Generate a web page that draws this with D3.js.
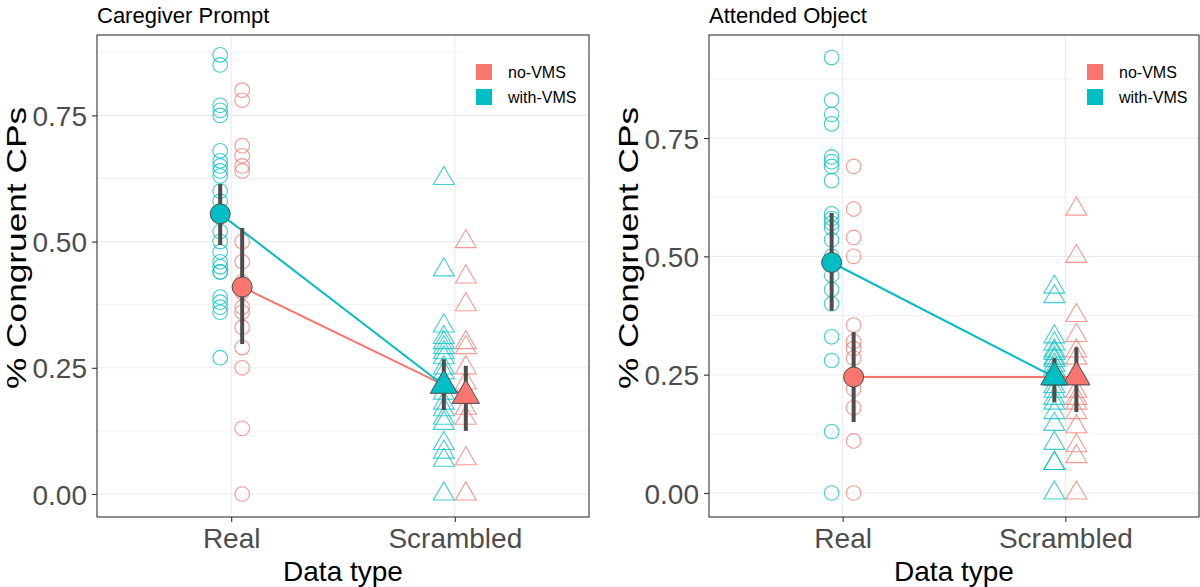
<!DOCTYPE html>
<html>
<head>
<meta charset="utf-8">
<script src="https://cdn.jsdelivr.net/npm/d3@7"></script>
<style>
  html, body { margin: 0; padding: 0; background: #fff; }
  svg { display: block; font-family: "Liberation Sans", Arial, sans-serif; }
</style>
</head>
<body>
<svg id="chart" width="1200" height="587"></svg>
<script>
// ---------------- data ----------------
const categories = ["Real", "Scrambled"];
const groups = ["no-VMS", "with-VMS"];
const panelTitles = ["Caregiver Prompt", "Attended Object"];
const yTicks = [0, 0.25, 0.5, 0.75];
const yMinorTicks = [0.125, 0.375, 0.625, 0.875];
const yTickLabels = ["0.00", "0.25", "0.50", "0.75"];
const xTitle = "Data type";
const yTitle = "% Congruent CPs";

// Caregiver Prompt – individual values
const cpRealWithVMS = [0.87, 0.85, 0.77, 0.76, 0.75, 0.68, 0.66, 0.65, 0.64, 0.63, 0.60, 0.58, 0.56, 0.52, 0.50, 0.48, 0.46, 0.45, 0.44, 0.44, 0.39, 0.38, 0.37, 0.36, 0.27];
const cpRealNoVMS = [0.80, 0.78, 0.69, 0.67, 0.65, 0.64, 0.50, 0.46, 0.42, 0.40, 0.37, 0.36, 0.33, 0.29, 0.25, 0.13, 0.00];
const cpScrWithVMS = [0.625, 0.444, 0.333, 0.31, 0.30, 0.29, 0.28, 0.27, 0.25, 0.24, 0.22, 0.20, 0.18, 0.167, 0.15, 0.14, 0.10, 0.083, 0.067, 0.00];
const cpScrNoVMS = [0.50, 0.43, 0.375, 0.30, 0.29, 0.25, 0.22, 0.20, 0.17, 0.15, 0.07, 0.00];
// Caregiver Prompt – means and intervals [Real, Scrambled]
const cpMeanWithVMS = [0.555, 0.215];
const cpLowWithVMS = [0.493, 0.166];
const cpHighWithVMS = [0.614, 0.267];
const cpMeanNoVMS = [0.41, 0.195];
const cpLowNoVMS = [0.297, 0.125];
const cpHighNoVMS = [0.527, 0.254];

// Attended Object – individual values
const aoRealWithVMS = [0.92, 0.83, 0.80, 0.78, 0.71, 0.70, 0.69, 0.66, 0.59, 0.58, 0.57, 0.56, 0.535, 0.50, 0.46, 0.43, 0.40, 0.33, 0.28, 0.13, 0.00];
const aoRealNoVMS = [0.69, 0.60, 0.54, 0.50, 0.355, 0.32, 0.305, 0.285, 0.25, 0.22, 0.18, 0.11, 0.00];
const aoScrWithVMS = [0.435, 0.415, 0.33, 0.315, 0.30, 0.295, 0.285, 0.28, 0.27, 0.26, 0.25, 0.24, 0.225, 0.215, 0.20, 0.19, 0.17, 0.145, 0.105, 0.0625, 0.0625, 0.00];
const aoScrNoVMS = [0.60, 0.50, 0.375, 0.333, 0.30, 0.285, 0.25, 0.215, 0.20, 0.19, 0.17, 0.14, 0.10, 0.077, 0.00];
const aoMeanWithVMS = [0.487, 0.245];
const aoLowWithVMS = [0.385, 0.192];
const aoHighWithVMS = [0.592, 0.285];
const aoMeanNoVMS = [0.245, 0.245];
const aoLowNoVMS = [0.150, 0.171];
const aoHighNoVMS = [0.340, 0.308];

// ---------------- build panel data ----------------
function panelData(title, real, scr, means, lows, highs, yDomain) {
  return {
    title,
    yDomain,
    points: [
      ...real.withVMS.map(v => ({cat: "Real", grp: "with-VMS", v})),
      ...real.noVMS.map(v => ({cat: "Real", grp: "no-VMS", v})),
      ...scr.withVMS.map(v => ({cat: "Scrambled", grp: "with-VMS", v})),
      ...scr.noVMS.map(v => ({cat: "Scrambled", grp: "no-VMS", v}))
    ],
    summary: groups.map(g => ({
      grp: g,
      vals: categories.map((c, i) => ({cat: c, grp: g, mean: means[g][i], lo: lows[g][i], hi: highs[g][i]}))
    }))
  };
}

const panels = [
  Object.assign(panelData(panelTitles[0],
    {withVMS: cpRealWithVMS, noVMS: cpRealNoVMS},
    {withVMS: cpScrWithVMS, noVMS: cpScrNoVMS},
    {"with-VMS": cpMeanWithVMS, "no-VMS": cpMeanNoVMS},
    {"with-VMS": cpLowWithVMS, "no-VMS": cpLowNoVMS},
    {"with-VMS": cpHighWithVMS, "no-VMS": cpHighNoVMS},
    [-0.0456, 0.9093]), {x0: 97, x1: 589, legendX: 463}),
  Object.assign(panelData(panelTitles[1],
    {withVMS: aoRealWithVMS, noVMS: aoRealNoVMS},
    {withVMS: aoScrWithVMS, noVMS: aoScrNoVMS},
    {"with-VMS": aoMeanWithVMS, "no-VMS": aoMeanNoVMS},
    {"with-VMS": aoLowWithVMS, "no-VMS": aoLowNoVMS},
    {"with-VMS": aoHighWithVMS, "no-VMS": aoHighNoVMS},
    [-0.0507, 0.9677]), {x0: 709, x1: 1199, legendX: 1074})
];

// ---------------- drawing ----------------
const svg = d3.select("#chart");
const color = d3.scaleOrdinal().domain(groups).range(["#F8766D", "#00BFC4"]);
const y0 = 35, y1 = 517;

panels.forEach(p => {
  const g = svg.append("g");
  const x = d3.scalePoint().domain(categories).range([p.x0, p.x1]).padding(0.6);
  const dodge = d3.scaleBand().domain(["with-VMS", "no-VMS"]).range([-22, 22]);
  const xp = (cat, grp) => x(cat) + dodge(grp) + dodge.bandwidth() / 2;
  const y = d3.scaleLinear().domain(p.yDomain).range([y1, y0]);

  // panel background
  g.append("rect").attr("x", p.x0).attr("y", y0).attr("width", p.x1 - p.x0).attr("height", y1 - y0).attr("fill", "#fff");

  // grid
  g.append("g").selectAll("line").data(yMinorTicks).join("line")
    .attr("x1", p.x0).attr("x2", p.x1).attr("y1", d => y(d)).attr("y2", d => y(d))
    .attr("stroke", "#F2F2F2").attr("stroke-width", 1);
  g.append("g").selectAll("line").data(yTicks).join("line")
    .attr("x1", p.x0).attr("x2", p.x1).attr("y1", d => y(d)).attr("y2", d => y(d))
    .attr("stroke", "#EBEBEB").attr("stroke-width", 1.1);
  g.append("g").selectAll("line").data(categories).join("line")
    .attr("x1", d => x(d)).attr("x2", d => x(d)).attr("y1", y0).attr("y2", y1)
    .attr("stroke", "#EBEBEB").attr("stroke-width", 1.1);

  // individual points
  const sym = d3.symbol().type(d3.symbolTriangle).size(190);
  g.append("g").selectAll("circle").data(p.points.filter(d => d.cat === "Real")).join("circle")
    .attr("cx", d => xp(d.cat, d.grp)).attr("cy", d => y(d.v)).attr("r", 7.3)
    .attr("fill", "none").attr("stroke", d => color(d.grp)).attr("stroke-opacity", 0.75).attr("stroke-width", 1.1);
  g.append("g").selectAll("path").data(p.points.filter(d => d.cat === "Scrambled")).join("path")
    .attr("transform", d => `translate(${xp(d.cat, d.grp)},${y(d.v)})`)
    .attr("d", sym)
    .attr("fill", "none").attr("stroke", d => color(d.grp)).attr("stroke-opacity", 0.75).attr("stroke-width", 1.1);

  // connecting lines
  const line = d3.line().x(d => xp(d.cat, d.grp)).y(d => y(d.mean));
  g.append("g").selectAll("path").data(p.summary).join("path")
    .attr("d", d => line(d.vals)).attr("fill", "none")
    .attr("stroke", d => color(d.grp)).attr("stroke-width", 2);

  const allSummary = p.summary.flatMap(s => s.vals);
  // error bars
  g.append("g").selectAll("line").data(allSummary).join("line")
    .attr("x1", d => xp(d.cat, d.grp)).attr("x2", d => xp(d.cat, d.grp))
    .attr("y1", d => y(d.lo)).attr("y2", d => y(d.hi))
    .attr("stroke", "#4D4D4D").attr("stroke-width", 4);

  // mean markers
  const bigTri = d3.symbol().type(d3.symbolTriangle).size(320);
  g.append("g").selectAll("circle").data(allSummary.filter(d => d.cat === "Real")).join("circle")
    .attr("cx", d => xp(d.cat, d.grp)).attr("cy", d => y(d.mean)).attr("r", 10)
    .attr("fill", d => color(d.grp)).attr("stroke", "#4D4D4D").attr("stroke-width", 1);
  g.append("g").selectAll("path").data(allSummary.filter(d => d.cat === "Scrambled")).join("path")
    .attr("transform", d => `translate(${xp(d.cat, d.grp)},${y(d.mean)})`)
    .attr("d", bigTri)
    .attr("fill", d => color(d.grp)).attr("stroke", "#4D4D4D").attr("stroke-width", 1);

  // legend
  const lg = g.append("g").attr("transform", `translate(${p.legendX},46)`);
  lg.append("rect").attr("width", 124).attr("height", 66).attr("fill", "#fff");
  groups.forEach((grp, i) => {
    lg.append("rect").attr("x", 13).attr("y", 18 + i * 25).attr("width", 16).attr("height", 16).attr("fill", color(grp));
    lg.append("text").attr("x", 45).attr("y", 32 + i * 25).attr("font-size", 16).attr("fill", "#000").text(grp);
  });

  // panel border
  g.append("rect").attr("x", p.x0).attr("y", y0).attr("width", p.x1 - p.x0).attr("height", y1 - y0)
    .attr("fill", "none").attr("stroke", "#333333").attr("stroke-width", 1.1);

  // axes
  const yAxis = d3.axisLeft(y).tickValues(yTicks).tickFormat((d, i) => yTickLabels[i]).tickSize(5).tickPadding(5);
  const ya = g.append("g").attr("transform", `translate(${p.x0},0)`).call(yAxis);
  ya.select(".domain").remove();
  ya.selectAll(".tick line").attr("stroke", "#333333").attr("stroke-width", 1.1);
  ya.selectAll(".tick text").attr("font-size", 28).attr("fill", "#4D4D4D").attr("font-family", "Liberation Sans, Arial, sans-serif").attr("dy", "0.36em");

  const xAxis = d3.axisBottom(x).tickSize(5).tickPadding(5);
  const xa = g.append("g").attr("transform", `translate(0,${y1})`).call(xAxis);
  xa.select(".domain").remove();
  xa.selectAll(".tick line").attr("stroke", "#333333").attr("stroke-width", 1.1);
  xa.selectAll(".tick text").attr("font-size", 28).attr("fill", "#4D4D4D").attr("font-family", "Liberation Sans, Arial, sans-serif").attr("dy", "0.74em");

  // titles
  g.append("text").attr("x", p.x0).attr("y", 23).attr("font-size", 22).attr("fill", "#000").text(p.title);
  g.append("text").attr("x", (p.x0 + p.x1) / 2).attr("y", 581).attr("text-anchor", "middle")
    .attr("font-size", 28).attr("fill", "#000").text(xTitle);
  g.append("text").attr("transform", `translate(${p.x0 - 71},${248}) rotate(-90)`)
    .attr("text-anchor", "middle").attr("font-size", 28)
    .attr("textLength", 282).attr("lengthAdjust", "spacingAndGlyphs")
    .attr("fill", "#000").text(yTitle);
});
</script>
</body>
</html>
